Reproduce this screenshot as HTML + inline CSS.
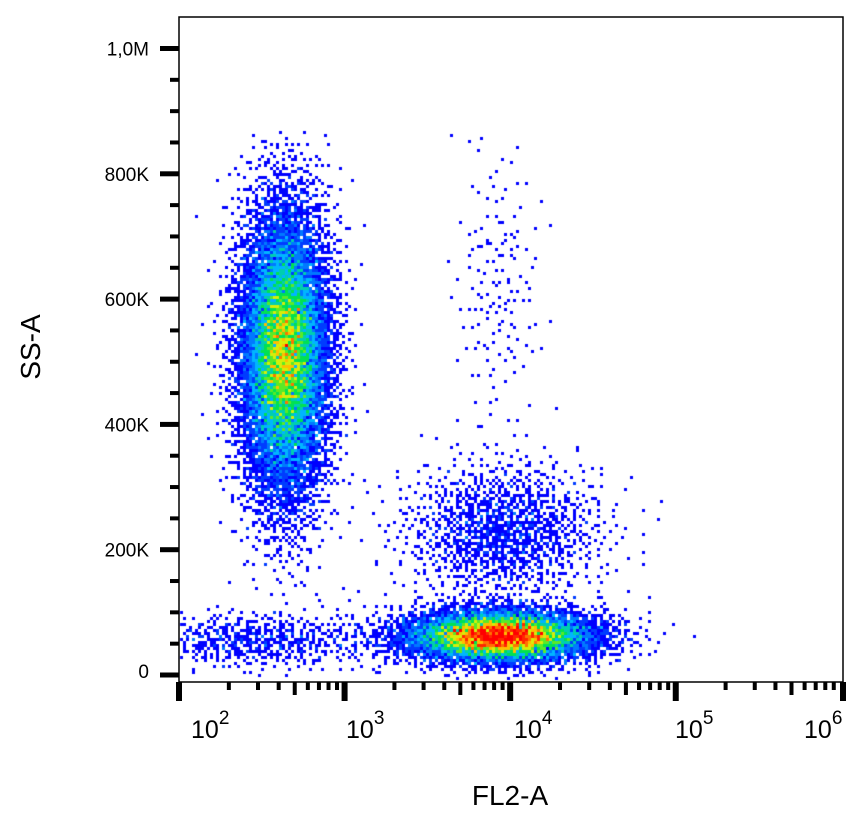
<!DOCTYPE html>
<html><head><meta charset="utf-8"><style>
body{margin:0;background:#fff;width:866px;height:819px;overflow:hidden;position:relative;font-family:"Liberation Sans",Arial,sans-serif}
canvas,svg{position:absolute;left:0;top:0}
</style></head><body>
<canvas id="plot" width="866" height="819"></canvas>
<svg id="axes" width="866" height="819"></svg>
<script>
// y ticks (values in K)
const yTickVals=[0,200,400,600,800,1000];
const yTickLabels=["0","200K","400K","600K","800K","1,0M"];
const xDecades=[2,3,4,5,6];
// populations: log10 x center, y center (K), sd log x, sd y (K), count
const popNames=["granulocytes","lymphocytes-low","monocytes-mid","upper-column","low-band"];
const popX=[2.63,3.93,3.95,3.92,2.45];
const popY=[515,62,230,620,55];
const popSX=[0.14,0.3,0.3,0.13,0.4];
const popSY=[120,22,55,120,22];
const popN=[10000,6000,1300,150,600];

const L=179,R=843,T=17,B=682;
const X=v=>L+(v-2)*(R-L)/4.01;
function Yv(v){return 675-v*0.6265;}
function halton(i,b){let f=1,r=0;while(i>0){f/=b;r+=f*(i%b);i=Math.floor(i/b);}return r;}
const cv=document.getElementById('plot');const ctx=cv.getContext('2d');
const bs=3,nx=Math.ceil((R-L)/bs),ny=Math.ceil((B-T)/bs);
const grid=new Float32Array(nx*ny);
let k=1;
for(let p=0;p<popN.length;p++){
  for(let i=0;i<popN[p];i++,k++){
    const u1=Math.max(1e-6,halton(k,2)),u2=halton(k,3);
    const r=Math.sqrt(-2*Math.log(u1));
    const gx=r*Math.cos(2*Math.PI*u2),gy=r*Math.sin(2*Math.PI*u2);
    const yv=popY[p]+gy*popSY[p];
    if(yv>865)continue;
    const px=X(popX[p]+gx*popSX[p]),py=Yv(yv);
    if(px<L+1||px>=R||py<T||py>=B-4)continue;
    const bx=Math.floor((px-L)/bs),by=Math.floor((py-T)/bs);
    grid[by*nx+bx]++;
  }
}
function jet(t){const s=[[0,0,0,255],[0.3,0,190,255],[0.5,0,230,60],[0.7,255,240,0],[1,255,0,0]];
  for(let i=1;i<s.length;i++)if(t<=s[i][0]){const a=s[i-1],b=s[i],f=(t-a[0])/(b[0]-a[0]);
  return `rgb(${Math.round(a[1]+f*(b[1]-a[1]))},${Math.round(a[2]+f*(b[2]-a[2]))},${Math.round(a[3]+f*(b[3]-a[3]))})`;}return 'rgb(255,0,0)';}
const cmax=11.5;
for(let by=0;by<ny;by++)for(let bx=0;bx<nx;bx++){const c=grid[by*nx+bx];if(!c)continue;
  const t=Math.min(1,(c-1)/(cmax-1));ctx.fillStyle=jet(t);ctx.fillRect(L+1+bx*bs,T+by*bs,bs,bs);}

const svg=document.getElementById('axes');const NS="http://www.w3.org/2000/svg";
function el(tag,attrs,parent){const e=document.createElementNS(NS,tag);for(const a in attrs)e.setAttribute(a,attrs[a]);(parent||svg).appendChild(e);return e;}
const frame=el('rect',{x:L,y:T,width:R-L,height:B-T,fill:'none',stroke:'#000','stroke-width':1.5});


for(let v=0;v<=1000;v+=50){const y=Yv(v);const major=v%200===0;
  const t=el('rect',{x:major?L-19:L-9,y:y-(major?2.5:2),width:major?19:9,height:major?5:4,fill:'#000'});
  
  }
yTickVals.forEach((v,i)=>{const t=el('text',{x:149,y:Yv(v)+(v===0?3:7),'text-anchor':'end','font-size':19,fill:'#000'});
  t.textContent=yTickLabels[i];
  
  });
for(let d=2;d<6;d++)for(let m=1;m<10;m++){const x=X(d+Math.log10(m));const major=m===1,mid=m===5;
  const t=el('rect',{x:x-(major?3:2),y:B,width:major?6:4,height:major?19:(mid?13:8),fill:'#000'});
  
  }
{const t=el('rect',{x:R-3,y:B,width:6,height:19,fill:'#000'});}
const xLabelLeft=[191,346,514,675,804];
xDecades.forEach((d,i)=>{const t=el('text',{x:xLabelLeft[i],y:738,'font-size':25,fill:'#000'});
  t.textContent='10';const s=el('tspan',{dy:-14,'font-size':19},t);s.textContent=String(d);
  
  });
const xt=el('text',{x:510,y:805,'text-anchor':'middle','font-size':28,fill:'#000'});xt.textContent='FL2-A';


const yt=el('text',{x:0,y:0,'text-anchor':'middle','font-size':28,fill:'#000',transform:'translate(40,347) rotate(-90)'});yt.textContent='SS-A';


</script>
</body></html>
